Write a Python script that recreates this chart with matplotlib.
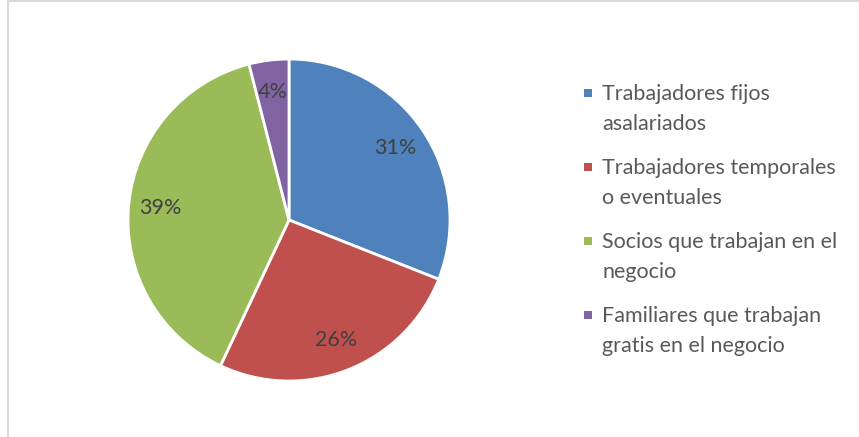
import matplotlib.pyplot as plt
from matplotlib.patches import Rectangle
from matplotlib.lines import Line2D

categorias = [
    "Trabajadores fijos\nasalariados",
    "Trabajadores temporales\no eventuales",
    "Socios que trabajan en el\nnegocio",
    "Familiares que trabajan\ngratis en el negocio",
]
porcentajes = [31, 26, 39, 4]
colores = ["#4F81BD", "#C0504D", "#9BBB59", "#8064A2"]

W, H = 859, 437
fig = plt.figure(figsize=(W / 100, H / 100), dpi=100)
fig.patch.set_facecolor("white")

# pie placed by pixel centre and radius
cx, cy, r = 289, 220, 161
ax = fig.add_axes([(cx - r) / W, (H - cy - r) / H, 2 * r / W, 2 * r / H])
wedges, texts, autotexts = ax.pie(
    porcentajes, colors=colores, startangle=90, counterclock=False,
    autopct=lambda p: f"{p:.0f}%", pctdistance=0.8,
    wedgeprops=dict(edgecolor="white", linewidth=2),
    textprops=dict(color="#404040", fontsize=15.5, family="Lato"),
)
ax.set_xlim(-1, 1)
ax.set_ylim(-1, 1)
ax.set_aspect("equal")
ax.axis("off")

# legend: square marker aligned with the first line of each label
y0 = 93
paso = 74
for i, (cat, col) in enumerate(zip(categorias, colores)):
    y = y0 + i * paso
    fig.add_artist(Rectangle((584 / W, (H - y - 4) / H), 8 / W, 8 / H,
                             transform=fig.transFigure, facecolor=col, edgecolor="none"))
    fig.text(602 / W, (H - y + 9) / H, cat, fontsize=15.5, family="Lato",
             color="#595959", va="top", ha="left", linespacing=1.6)

# chart area border (top and left edges visible)
borde = "#D9D9D9"
fig.add_artist(Line2D([7.5 / W, 1], [1 - 1 / H, 1 - 1 / H], transform=fig.transFigure,
                      color=borde, linewidth=1.5))
fig.add_artist(Line2D([7.5 / W, 7.5 / W], [0, 1 - 1 / H], transform=fig.transFigure,
                      color=borde, linewidth=1.5))

fig.savefig("out.png", dpi=100)
